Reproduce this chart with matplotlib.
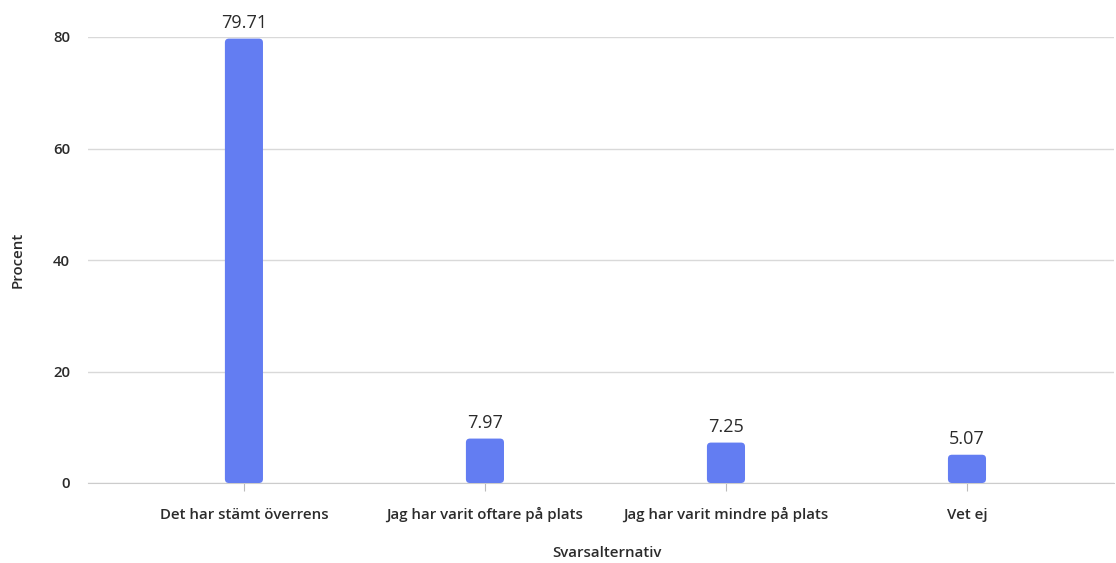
import matplotlib
matplotlib.use("Agg")
import matplotlib.pyplot as plt
from matplotlib.patches import FancyBboxPatch

categories = ["Det har stämt överrens", "Jag har varit oftare på plats",
              "Jag har varit mindre på plats", "Vet ej"]
values = [79.71, 7.97, 7.25, 5.07]
yticks = [0, 20, 40, 60, 80]

plt.rcParams['font.family'] = ['Open Sans', 'DejaVu Sans']
text_color = "#2b2b2b"
bar_color = "#637DF2"
grid_color = "#d9d9d9"

fig = plt.figure(figsize=(11.16, 5.63), dpi=100)
ax = fig.add_axes([88/1116, 80/563, (1114-88)/1116, (483-37)/563])

x = list(range(len(categories)))
bars = ax.bar(x, values, width=0.158, color=bar_color)
ax.set_xlim(-0.647, 3.61)
ax.set_ylim(0, 80)

# replace with rounded bars
xpx = ax.get_window_extent().width / (3.61 + 0.647)
ypx = ax.get_window_extent().height / 80
for b in bars:
    bx, by = b.get_x(), b.get_y()
    w, h = b.get_width(), b.get_height()
    b.set_visible(False)
    r = 4.0 / xpx
    p = FancyBboxPatch((bx, by), w, h,
                       boxstyle=f"round,pad=0,rounding_size={r}",
                       mutation_aspect=xpx / ypx,
                       facecolor=bar_color, edgecolor="none", zorder=3)
    ax.add_patch(p)

for xi, v in zip(x, values):
    ax.annotate(f"{v:.2f}", (xi, v), xytext=(0, 5), textcoords="offset points",
                ha="center", va="bottom", fontsize=13, fontweight="medium",
                color=text_color, clip_on=False)

ax.set_yticks(yticks)
ax.set_xticks(x)
ax.set_xticklabels(categories, fontsize=10.8, fontweight="semibold", color=text_color)
ax.set_yticklabels([str(t) for t in yticks], fontsize=10.8, fontweight="semibold", color=text_color)
for lab in ax.get_xticklabels():
    lab.set_verticalalignment("baseline")
ax.tick_params(axis="x", length=6, color="#bbbbbb", pad=20)
ax.tick_params(axis="y", length=0, pad=13)
ax.yaxis.grid(True, color=grid_color, linewidth=1)
ax.set_axisbelow(True)
for s in ["top", "right", "left"]:
    ax.spines[s].set_visible(False)
ax.spines["bottom"].set_color("#cccccc")

ax.set_xlabel("Svarsalternativ", fontsize=10.8, fontweight="semibold", color=text_color)
ax.set_ylabel("Procent", fontsize=10.8, fontweight="semibold", color=text_color)
ax.xaxis.set_label_coords((607 - 88) / 1026, (483 - 553) / 446)
ax.xaxis.label.set_verticalalignment("center")
ax.yaxis.set_label_coords((18 - 88) / 1026, 0.5)
ax.yaxis.label.set_verticalalignment("center")

fig.savefig("out.png", dpi=100, facecolor="white")
